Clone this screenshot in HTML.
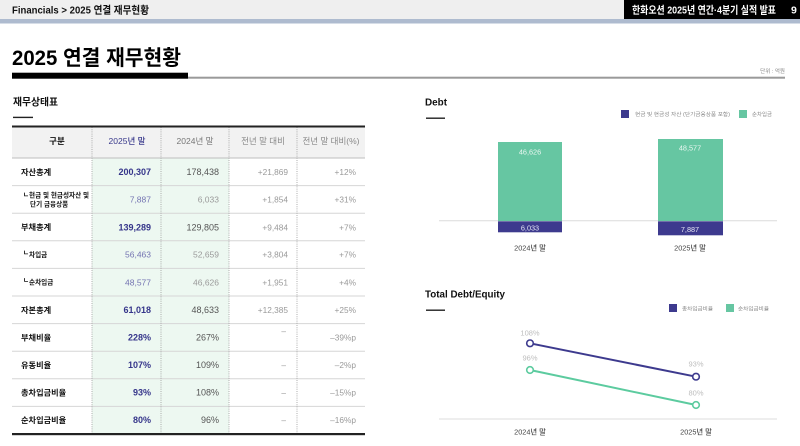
<!DOCTYPE html>
<html><head><meta charset="utf-8"><style>
html,body{margin:0;padding:0;background:#fff;}
svg{display:block;}
text{font-family:"Liberation Sans","Noto Sans CJK KR",sans-serif;}
</style></head><body>
<svg width="800" height="446" viewBox="0 0 800 446" xmlns="http://www.w3.org/2000/svg">
<!-- top bar -->
<rect x="0" y="0" width="800" height="19" fill="#efefef"/>
<rect x="0" y="19" width="800" height="4.5" fill="#aebbcf"/>
<rect x="624" y="0" width="176" height="19" fill="#000"/>
<text x="12" y="13.5" font-size="10.5" fill="#111" font-weight="600" textLength="137" lengthAdjust="spacingAndGlyphs">Financials &gt; 2025 연결 재무현황</text>
<text x="632" y="13.5" font-size="10.5" fill="#fff" font-weight="600" textLength="144" lengthAdjust="spacingAndGlyphs">한화오션 2025년 연간·4분기 실적 발표</text>
<text x="791" y="13.5" font-size="10.5" fill="#fff" font-weight="bold">9</text>

<!-- title -->
<text x="12" y="65" font-size="21" fill="#000" font-weight="bold" textLength="169" lengthAdjust="spacingAndGlyphs">2025 연결 재무현황</text>
<rect x="188" y="76.7" width="597" height="2" fill="#9a9a9a"/>
<rect x="12" y="72.7" width="176" height="6" fill="#000"/>
<text x="785" y="73" font-size="5.5" fill="#888" text-anchor="end">단위 : 억원</text>

<!-- section titles -->
<text x="13" y="105.5" font-size="10" fill="#111" font-weight="bold" textLength="45" lengthAdjust="spacingAndGlyphs">재무상태표</text>
<rect x="13" y="116.7" width="20" height="1.4" fill="#222"/>
<text x="425" y="105.5" font-size="10.5" fill="#111" font-weight="bold" textLength="22" lengthAdjust="spacingAndGlyphs">Debt</text>
<rect x="426" y="117.5" width="19" height="1.4" fill="#222"/>
<text x="425" y="297.5" font-size="10.5" fill="#111" font-weight="bold" textLength="80" lengthAdjust="spacingAndGlyphs">Total Debt/Equity</text>
<rect x="426" y="309.5" width="19" height="1.4" fill="#222"/>

<!-- table -->
<rect x="12" y="127" width="353" height="31" fill="#f2f2f2"/>
<rect x="92" y="158" width="137" height="276" fill="#edf8f1"/>
<g stroke="#d6d6d6" stroke-width="1">
<line x1="12" y1="185.6" x2="365" y2="185.6"/>
<line x1="12" y1="213.2" x2="365" y2="213.2"/>
<line x1="12" y1="240.8" x2="365" y2="240.8"/>
<line x1="12" y1="268.4" x2="365" y2="268.4"/>
<line x1="12" y1="296" x2="365" y2="296"/>
<line x1="12" y1="323.6" x2="365" y2="323.6"/>
<line x1="12" y1="351.2" x2="365" y2="351.2"/>
<line x1="12" y1="378.8" x2="365" y2="378.8"/>
<line x1="12" y1="406.4" x2="365" y2="406.4"/>
</g>
<line x1="12" y1="158" x2="365" y2="158" stroke="#bdbdbd" stroke-width="1"/>
<g stroke="#9a9a9a" stroke-width="0.8" stroke-dasharray="1,1.2">
<line x1="92" y1="127" x2="92" y2="434"/>
<line x1="161" y1="127" x2="161" y2="434"/>
<line x1="229" y1="127" x2="229" y2="434"/>
<line x1="297" y1="127" x2="297" y2="434"/>
</g>
<rect x="12" y="125.5" width="353" height="2" fill="#222"/>
<rect x="12" y="433" width="353" height="2.2" fill="#222"/>

<!-- header -->
<g font-size="8.5" text-anchor="middle">
<text x="57" y="144" fill="#111" font-weight="bold">구분</text>
<text x="127" y="144" fill="#3a3a8c" font-weight="500">2025년 말</text>
<text x="195" y="144" fill="#777">2024년 말</text>
<text x="263" y="144" fill="#888">전년 말 대비</text>
<text x="331" y="144" fill="#888">전년 말 대비(%)</text>
</g>

<!-- labels -->
<g font-size="8.2" fill="#111" font-weight="bold">
<text x="21" y="175">자산총계</text>
<text x="21" y="230">부채총계</text>
<text x="21" y="313">자본총계</text>
<text x="21" y="340.5">부채비율</text>
<text x="21" y="368">유동비율</text>
<text x="21" y="395.5">총차입금비율</text>
<text x="21" y="423">순차입금비율</text>
</g>
<g font-size="6.6" fill="#111" font-weight="bold">
<text x="23" y="197">ㄴ</text><text x="29" y="197.5">현금 및 현금성자산 및</text>
<text x="30" y="206.5">단기 금융상품</text>
<text x="23" y="255">ㄴ</text><text x="29" y="257">차입금</text>
<text x="23" y="282.5">ㄴ</text><text x="29" y="284.5">순차입금</text>
</g>

<!-- 2025 column -->
<g text-anchor="end">
<g font-size="9" fill="#35358a" font-weight="bold">
<text x="151" y="175">200,307</text>
<text x="151" y="230.3">139,289</text>
<text x="151" y="313">61,018</text>
<text x="151" y="340.5">228%</text>
<text x="151" y="368">107%</text>
<text x="151" y="395.5">93%</text>
<text x="151" y="423">80%</text>
</g>
<g font-size="8.5" fill="#7474b2">
<text x="151" y="202.5">7,887</text>
<text x="151" y="257.7">56,463</text>
<text x="151" y="285.3">48,577</text>
</g>
<!-- 2024 column -->
<g font-size="9" fill="#555" font-weight="500">
<text x="219" y="175">178,438</text>
<text x="219" y="230.3">129,805</text>
<text x="219" y="313">48,633</text>
<text x="219" y="340.5">267%</text>
<text x="219" y="368">109%</text>
<text x="219" y="395.5">108%</text>
<text x="219" y="423">96%</text>
</g>
<g font-size="8.5" fill="#9a9a9a">
<text x="219" y="202.5">6,033</text>
<text x="219" y="257.7">52,659</text>
<text x="219" y="285.3">46,626</text>
</g>
<!-- diff -->
<g font-size="8.3" fill="#999">
<text x="288" y="175">+21,869</text>
<text x="288" y="202.5">+1,854</text>
<text x="288" y="230.3">+9,484</text>
<text x="288" y="257.7">+3,804</text>
<text x="288" y="285.3">+1,951</text>
<text x="288" y="313">+12,385</text>
<text x="286" y="334">–</text>
<text x="286" y="368">–</text>
<text x="286" y="395.5">–</text>
<text x="286" y="423">–</text>
<text x="356" y="175">+12%</text>
<text x="356" y="202.5">+31%</text>
<text x="356" y="230.3">+7%</text>
<text x="356" y="257.7">+7%</text>
<text x="356" y="285.3">+4%</text>
<text x="356" y="313">+25%</text>
<text x="356" y="340.5">–39%p</text>
<text x="356" y="368">–2%p</text>
<text x="356" y="395.5">–15%p</text>
<text x="356" y="423">–16%p</text>
</g>
</g>

<!-- Debt chart legend -->
<rect x="621" y="110" width="8" height="8" fill="#3d3a8e"/>
<text x="635" y="116" font-size="5.3" fill="#888" textLength="95" lengthAdjust="spacingAndGlyphs">현금 및 현금성 자산 (단기금융상품 포함)</text>
<rect x="739" y="110" width="8" height="8" fill="#66c6a2"/>
<text x="752" y="116" font-size="5.3" fill="#888" textLength="20" lengthAdjust="spacingAndGlyphs">순차입금</text>

<!-- Debt bars -->
<line x1="439" y1="220.8" x2="777" y2="220.8" stroke="#dcdcdc" stroke-width="1"/>
<rect x="498" y="142" width="64" height="79" fill="#66c6a2"/>
<rect x="498" y="221.3" width="64" height="11" fill="#3d3a8e"/>
<rect x="658" y="139" width="65" height="82" fill="#66c6a2"/>
<rect x="658" y="221.3" width="65" height="14" fill="#3d3a8e"/>
<g font-size="7.3" text-anchor="middle">
<text x="530" y="154.3" fill="#eaf7f1">46,626</text>
<text x="690" y="150.7" fill="#eaf7f1">48,577</text>
<text x="530" y="230.3" fill="#e6e6f4">6,033</text>
<text x="690" y="231.8" fill="#e6e6f4">7,887</text>
<text x="530" y="250.5" fill="#444" font-weight="500">2024년 말</text>
<text x="690" y="250.5" fill="#444" font-weight="500">2025년 말</text>
</g>

<!-- line chart legend -->
<rect x="669" y="304" width="8" height="8" fill="#3d3a8e"/>
<text x="682" y="310.3" font-size="5.3" fill="#888" textLength="31" lengthAdjust="spacingAndGlyphs">총차입금비율</text>
<rect x="726" y="304" width="8" height="8" fill="#66c6a2"/>
<text x="738" y="310.3" font-size="5.3" fill="#888" textLength="31" lengthAdjust="spacingAndGlyphs">순차입금비율</text>

<!-- lines -->
<line x1="439" y1="419" x2="777" y2="419" stroke="#dcdcdc" stroke-width="1"/>
<line x1="530" y1="343.3" x2="696" y2="376.7" stroke="#3d3a8e" stroke-width="2"/>
<line x1="530" y1="370" x2="696" y2="405" stroke="#5ccb9f" stroke-width="2"/>
<circle cx="530" cy="343.3" r="3.3" fill="#fff" stroke="#3d3a8e" stroke-width="1.6"/>
<circle cx="696" cy="376.7" r="3.3" fill="#fff" stroke="#3d3a8e" stroke-width="1.6"/>
<circle cx="530" cy="370" r="3.3" fill="#fff" stroke="#5ccb9f" stroke-width="1.6"/>
<circle cx="696" cy="405" r="3.3" fill="#fff" stroke="#5ccb9f" stroke-width="1.6"/>
<g font-size="7.5" text-anchor="middle" fill="#bdbdbd">
<text x="530" y="335.6">108%</text>
<text x="530" y="360.6">96%</text>
<text x="696" y="366.6">93%</text>
<text x="696" y="395.6">80%</text>
</g>
<g font-size="7.3" text-anchor="middle" fill="#444" font-weight="500">
<text x="530" y="434.5">2024년 말</text>
<text x="696" y="434.5">2025년 말</text>
</g>
</svg>
</body></html>
